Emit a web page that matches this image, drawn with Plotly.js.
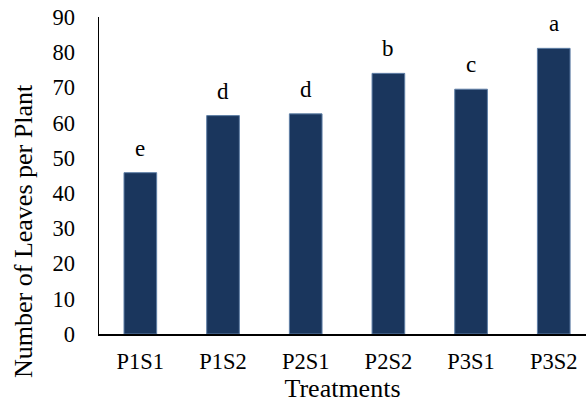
<!DOCTYPE html>
<html>
<head>
<meta charset="utf-8">
<script src="https://cdn.plot.ly/plotly-3.0.1.min.js"></script>
<style>html,body{margin:0;padding:0;background:#fff;}#chart{width:586px;height:407px;}</style>
</head>
<body>
<div id="chart"></div>
<script>
const treatments = ["P1S1", "P1S2", "P2S1", "P2S2", "P3S1", "P3S2"];
const leaves = [45.8, 62.0, 62.5, 74.0, 69.5, 81.1];
const groupLetters = ["e", "d", "d", "b", "c", "a"];
const yTicks = [0, 10, 20, 30, 40, 50, 60, 70, 80, 90];

const FONT = "Liberation Serif, Times New Roman, serif";

const trace = {
  type: "bar",
  x: treatments,
  y: leaves,
  marker: { color: "#1a365d", line: { color: "#5f7fa6", width: 1 } },
  hoverinfo: "x+y"
};

const annotations = treatments.map((t, i) => ({
  x: t, y: leaves[i], xref: "x", yref: "y",
  text: groupLetters[i], showarrow: false,
  yanchor: "bottom", yshift: 10,
  font: { family: FONT, size: 23, color: "#000" }
}));

// y-axis title (placed below the axis centre, as in the reference)
annotations.push({
  x: 0, y: 0.325, xref: "paper", yref: "paper",
  xanchor: "center", yanchor: "middle", xshift: -75,
  textangle: -90, showarrow: false,
  text: "Number of Leaves per Plant",
  font: { family: FONT, size: 26, color: "#000" }
});

const layout = {
  width: 586, height: 407,
  margin: { l: 99, r: 0, t: 17, b: 73 },
  paper_bgcolor: "#fff", plot_bgcolor: "#fff",
  showlegend: false,
  bargap: 0.605,
  font: { family: FONT, color: "#000" },
  xaxis: {
    type: "category",
    range: [-0.5, 5.39],
    showline: true, linecolor: "#000", linewidth: 1.5,
    ticks: "", showgrid: false, zeroline: false,
    tickfont: { family: FONT, size: 22.5, color: "#000" },
    ticklabelstandoff: 6,
    title: { text: "Treatments", font: { family: FONT, size: 26, color: "#000" }, standoff: 6 }
  },
  yaxis: {
    range: [0, 90],
    tickvals: yTicks,
    ticktext: yTicks.map(String),
    showline: true, linecolor: "#000", linewidth: 1.5,
    ticks: "", showgrid: false, zeroline: false,
    tickfont: { family: FONT, size: 22.5, color: "#000" },
    ticklabelstandoff: 18
  },
  annotations: annotations
};

Plotly.newPlot("chart", [trace], layout, { displayModeBar: false, staticPlot: true });
</script>
</body>
</html>
